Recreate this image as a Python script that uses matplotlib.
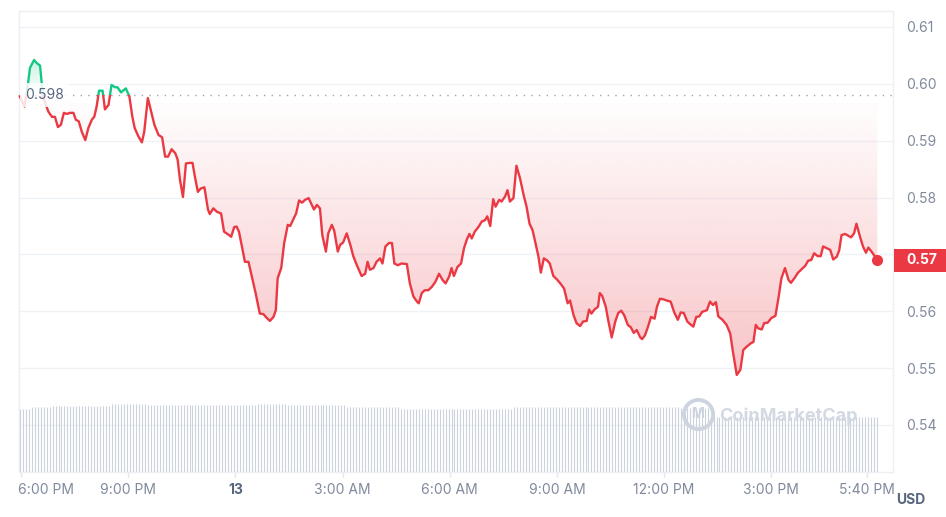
import numpy as np
import matplotlib
matplotlib.use("Agg")
import matplotlib.pyplot as plt
from matplotlib.path import Path
from matplotlib.patches import PathPatch, Rectangle
from matplotlib.transforms import blended_transform_factory, ScaledTranslation
from matplotlib.colors import to_rgb

plt.rcParams['font.family'] = ['Inter', 'DejaVu Sans']

# ---------------- data ----------------
# minutes after 6:00 PM
times = [
    -2, 6, 12, 15, 22, 26, 32, 37, 46, 52,
    57, 62, 67, 72, 77, 82, 88, 92, 97, 102,
    108, 113, 119, 123, 127, 131, 137, 141, 147, 152,
    158, 162, 168, 176, 182, 187, 191, 197, 203, 207,
    213, 218, 224, 231, 237, 242, 247, 253, 259, 263,
    267, 272, 277, 284, 288, 292, 297, 302, 308, 314,
    317, 323, 329, 336, 341, 348, 353, 358, 362, 366,
    371, 376, 382, 387, 394, 401, 407, 413, 418, 424,
    428, 431, 437, 442, 448, 452, 457, 462, 467, 472,
    477, 483, 487, 492, 497, 502, 506, 512, 516, 522,
    526, 532, 536, 541, 547, 553, 558, 564, 572, 578,
    582, 586, 592, 597, 603, 607, 612, 618, 623, 627,
    633, 639, 648, 653, 659, 665, 668, 673, 678, 684,
    690, 696, 702, 708, 713, 719, 723, 727, 733, 739,
    744, 749, 753, 757, 762, 768, 774, 779, 783, 788,
    793, 797, 803, 807, 813, 817, 821, 827, 832, 838,
    844, 849, 854, 859, 864, 869, 873, 878, 884, 888,
    894, 900, 905, 912, 918, 922, 928, 933, 939, 944,
    950, 954, 958, 963, 969, 972, 976, 982, 986, 992,
    998, 1003, 1008, 1013, 1019, 1024, 1029, 1034, 1040, 1043,
    1048, 1053, 1058, 1064, 1068, 1073, 1079, 1084, 1091, 1097,
    1103, 1108, 1113, 1119, 1123, 1129, 1134, 1139, 1144, 1152,
    1157, 1162, 1167, 1171, 1178, 1185, 1191, 1196, 1202, 1208,
    1213, 1219, 1226, 1230, 1234, 1238, 1244, 1248, 1254, 1260,
    1267, 1272, 1277, 1283, 1289, 1293, 1300, 1305, 1311, 1317,
    1322, 1327, 1332, 1338, 1343, 1347, 1353, 1359, 1364, 1370,
    1374, 1378, 1384, 1389, 1394, 1399, 1403, 1409, 1414, 1419,
    1423, 1429, 1433, 1438,
]

prices = [
    0.5978, 0.5960, 0.6002, 0.6028, 0.6042, 0.6037, 0.6032, 0.5977, 0.5951, 0.5942,
    0.5942, 0.5924, 0.5928, 0.5949, 0.5947, 0.5949, 0.5949, 0.5937, 0.5934, 0.5916,
    0.5901, 0.5922, 0.5937, 0.5942, 0.5960, 0.5988, 0.5988, 0.5955, 0.5963, 0.5998,
    0.5994, 0.5994, 0.5985, 0.5992, 0.5978, 0.5942, 0.5922, 0.5908, 0.5897, 0.5916,
    0.5975, 0.5954, 0.5928, 0.5910, 0.5906, 0.5872, 0.5872, 0.5885, 0.5878, 0.5867,
    0.5831, 0.5801, 0.5860, 0.5861, 0.5861, 0.5837, 0.5810, 0.5816, 0.5818, 0.5779,
    0.5771, 0.5781, 0.5775, 0.5772, 0.5740, 0.5735, 0.5731, 0.5748, 0.5749, 0.5740,
    0.5714, 0.5687, 0.5687, 0.5664, 0.5632, 0.5596, 0.5595, 0.5588, 0.5583, 0.5590,
    0.5602, 0.5658, 0.5676, 0.5720, 0.5752, 0.5750, 0.5761, 0.5772, 0.5795, 0.5791,
    0.5796, 0.5799, 0.5790, 0.5779, 0.5787, 0.5781, 0.5734, 0.5705, 0.5737, 0.5752,
    0.5742, 0.5705, 0.5717, 0.5721, 0.5737, 0.5717, 0.5697, 0.5681, 0.5662, 0.5666,
    0.5687, 0.5673, 0.5676, 0.5687, 0.5693, 0.5684, 0.5714, 0.5720, 0.5720, 0.5684,
    0.5681, 0.5684, 0.5683, 0.5649, 0.5626, 0.5617, 0.5614, 0.5632, 0.5637, 0.5637,
    0.5643, 0.5652, 0.5666, 0.5655, 0.5649, 0.5661, 0.5676, 0.5662, 0.5678, 0.5684,
    0.5711, 0.5727, 0.5736, 0.5728, 0.5740, 0.5748, 0.5758, 0.5760, 0.5767, 0.5750,
    0.5797, 0.5784, 0.5796, 0.5793, 0.5802, 0.5813, 0.5793, 0.5799, 0.5856, 0.5834,
    0.5805, 0.5784, 0.5754, 0.5743, 0.5720, 0.5696, 0.5668, 0.5693, 0.5689, 0.5684,
    0.5662, 0.5656, 0.5650, 0.5640, 0.5614, 0.5619, 0.5593, 0.5579, 0.5574, 0.5582,
    0.5583, 0.5603, 0.5596, 0.5603, 0.5608, 0.5632, 0.5627, 0.5608, 0.5585, 0.5554,
    0.5582, 0.5597, 0.5601, 0.5593, 0.5576, 0.5572, 0.5562, 0.5567, 0.5554, 0.5551,
    0.5558, 0.5573, 0.5590, 0.5587, 0.5608, 0.5622, 0.5621, 0.5619, 0.5617, 0.5598,
    0.5585, 0.5598, 0.5597, 0.5582, 0.5578, 0.5573, 0.5590, 0.5591, 0.5599, 0.5602,
    0.5617, 0.5611, 0.5616, 0.5591, 0.5585, 0.5576, 0.5561, 0.5526, 0.5488, 0.5497,
    0.5532, 0.5538, 0.5544, 0.5546, 0.5576, 0.5570, 0.5568, 0.5579, 0.5580, 0.5588,
    0.5592, 0.5623, 0.5658, 0.5676, 0.5655, 0.5650, 0.5660, 0.5668, 0.5674, 0.5680,
    0.5689, 0.5690, 0.5702, 0.5697, 0.5697, 0.5714, 0.5711, 0.5708, 0.5691, 0.5696,
    0.5707, 0.5734, 0.5736, 0.5733, 0.5730, 0.5737, 0.5754, 0.5731, 0.5714, 0.5703,
    0.5712, 0.5704, 0.5698, 0.5690,
]

open_price = 0.598

# volume bars every 5 minutes (relative units)
vol_times = [-2 + 5 * i for i in range(289)]
volumes = [
    315, 315, 315, 315, 325, 325, 325, 325, 325, 325, 325, 330, 330, 330, 330, 330, 330, 330, 330, 330,
    330, 330, 330, 330, 330, 330, 330, 330, 330, 330, 330, 340, 340, 340, 340, 340, 340, 340, 340, 340,
    340, 340, 340, 335, 335, 335, 335, 335, 335, 335, 335, 335, 335, 335, 335, 335, 335, 335, 335, 335,
    335, 335, 335, 335, 335, 335, 335, 335, 335, 335, 335, 335, 335, 335, 335, 335, 335, 335, 335, 335,
    340, 340, 340, 340, 340, 340, 340, 340, 340, 340, 335, 335, 335, 335, 335, 335, 335, 335, 335, 335,
    335, 335, 335, 335, 335, 335, 335, 335, 335, 335, 325, 325, 325, 325, 325, 325, 325, 325, 325, 325,
    325, 325, 325, 325, 325, 325, 325, 325, 315, 315, 315, 315, 315, 315, 315, 315, 315, 315, 315, 315,
    315, 315, 315, 315, 315, 315, 315, 315, 315, 315, 315, 315, 315, 315, 315, 315, 315, 315, 315, 315,
    315, 315, 315, 315, 315, 315, 325, 325, 325, 325, 325, 325, 325, 325, 325, 325, 325, 325, 325, 325,
    325, 325, 325, 325, 325, 325, 325, 325, 325, 325, 325, 325, 325, 325, 325, 325, 325, 325, 325, 325,
    325, 325, 325, 325, 325, 325, 325, 325, 325, 325, 325, 325, 325, 325, 325, 325, 325, 325, 325, 325,
    325, 325, 320, 320, 320, 320, 320, 320, 320, 320, 320, 320, 275, 275, 275, 275, 275, 275, 275, 275,
    275, 275, 275, 275, 275, 275, 275, 275, 275, 275, 275, 275, 275, 275, 275, 275, 275, 275, 275, 275,
    275, 275, 275, 275, 275, 275, 275, 275, 275, 275, 275, 275, 275, 275, 275, 275, 275, 275, 275, 275,
    275, 275, 275, 275, 275, 275, 275, 275, 275,
]

y_ticks = [0.54, 0.55, 0.56, 0.57, 0.58, 0.59, 0.60, 0.61]
y_tick_labels = ['0.54', '0.55', '0.56', '0.57', '0.58', '0.59', '0.60', '0.61']
x_ticks = [0, 180, 360, 540, 720, 900, 1080, 1260, 1420]
x_tick_labels = ['6:00 PM', '9:00 PM', '13', '3:00 AM', '6:00 AM', '9:00 AM',
                 '12:00 PM', '3:00 PM', '5:40 PM']
current_label = '0.57'

# ---------------- styling ----------------
RED = '#ea3943'
GREEN = '#16c784'
GRID = '#eff2f5'
TXT = '#808a9d'
DARK = '#58667e'
XMIN, XMAX = -4.2, 1464.4
YMIN, YMAX = 0.53173, 0.6129

W, H = 946, 517
fig = plt.figure(figsize=(W / 100, H / 100), dpi=100)
ax = fig.add_axes([18.5 / W, (H - 472) / H, (893 - 18.5) / W, (472 - 10.5) / H])
ax.set_facecolor('white')

t = np.array(times, dtype=float)
p = np.array(prices, dtype=float)

# gridlines
for yt in y_ticks:
    ax.axhline(yt, color=GRID, lw=1, zorder=0)

# gradient fills
def gradient_fill(lower, upper, color, a_top, a_bottom, ylo, yhi):
    verts = np.column_stack([np.r_[t, t[::-1]], np.r_[lower, upper[::-1]]])
    patch = PathPatch(Path(verts), facecolor='none', edgecolor='none', transform=ax.transData)
    ax.add_patch(patch)
    n = 256
    img = np.zeros((n, 2, 4))
    img[:, :, :3] = to_rgb(color)
    img[:, :, 3] = np.linspace(a_top, a_bottom, n)[:, None]
    im = ax.imshow(img, extent=[t[0], t[-1], ylo, yhi], aspect='auto', origin='upper',
                   zorder=1, interpolation='bilinear')
    im.set_clip_path(patch)

base_arr = np.full(len(t), open_price)
gradient_fill(np.minimum(p, open_price), base_arr, RED, 0.0, 0.30, p.min(), open_price)
gradient_fill(base_arr, np.maximum(p, open_price), GREEN, 0.22, 0.02, open_price, p.max())

# baseline dotted line
ax.axhline(open_price, color='#9aa3b1', lw=1, linestyle=(0, (1, 4.5)), zorder=2)

# price line split in colours
red_line, = ax.plot(t, p, color=RED, lw=1.7, zorder=3, solid_joinstyle='round')
green_line, = ax.plot(t, p, color=GREEN, lw=1.7, zorder=3, solid_joinstyle='round')
red_line.set_clip_path(Rectangle((-1000, 0.0), 4000, open_price, transform=ax.transData))
green_line.set_clip_path(Rectangle((-1000, open_price), 4000, 1.0, transform=ax.transData))
ax.plot(t[-1], p[-1], 'o', color=RED, ms=7, zorder=5, clip_on=False)

# open price label
ax.text((25 - 18.5) / 874.5, open_price, f'{open_price:.3f}',
        transform=blended_transform_factory(ax.transAxes, ax.transData),
        ha='left', va='center', fontsize=10, color=DARK, zorder=6,
        bbox=dict(boxstyle='square,pad=0.35', facecolor='white', edgecolor='none', alpha=0.85))

ax.set_xlim(XMIN, XMAX)
ax.set_ylim(YMIN, YMAX)

# volume axis
ax2 = ax.twinx()
ax2.vlines(vol_times, 0, volumes, color='#cbd3df', lw=0.8, zorder=1)
ax2.set_ylim(0, 2308)
ax2.set_xlim(XMIN, XMAX)
ax2.set_yticks([])
for s in ax2.spines.values():
    s.set_visible(False)
ax2.patch.set_visible(False)

# axes styling
for s in ax.spines.values():
    s.set_color('#eceff3')
    s.set_linewidth(1)
ax.yaxis.tick_right()
ax.set_yticks(y_ticks)
ax.set_yticklabels(y_tick_labels)
ax.tick_params(axis='y', which='both', left=False, labelleft=False, right=False,
               labelright=True, length=0, pad=9.5, labelsize=10, labelcolor=TXT)
# the tick label under the current-price badge is covered by it
for lab in ax.get_yticklabels():
    if lab.get_text() == current_label:
        lab.set_visible(False)
ax.set_xticks(x_ticks)
ax.set_xticklabels(x_tick_labels)
ax.tick_params(axis='x', length=3.6, width=1, color='#e3e6eb', pad=4.3, labelsize=10, labelcolor=TXT)
xl = ax.get_xticklabels()
xl[0].set_ha('left')
xl[0].set_transform(xl[0].get_transform() + ScaledTranslation(-3 / 100, 0, fig.dpi_scale_trans))
xl[2].set_fontweight('bold')
xl[2].set_color(DARK)

# watermark
ax2.plot([0.777], [0.1257], 'o', mfc='none', mec='#cdd4e0', ms=21, mew=2.8,
         transform=ax2.transAxes, zorder=4, clip_on=False)
ax2.text(0.777, 0.1257, 'M', transform=ax2.transAxes, ha='center', va='center',
         fontsize=10, fontweight='bold', color='#cdd4e0', zorder=4)
ax2.text(0.801, 0.121, 'CoinMarketCap', transform=ax2.transAxes, ha='left', va='center',
         fontsize=13, fontweight='bold', color='#d3d9e3', zorder=4)

# current price badge
tr = blended_transform_factory(fig.transFigure, ax.transData)
half = 11.5 * (YMAX - YMIN) / 461.5
badge = Rectangle((894 / W, p[-1] - half), (W - 894) / W, 2 * half, transform=tr,
                  facecolor=RED, edgecolor='none', zorder=10)
fig.add_artist(badge)
badge_txt = fig.text(906 / W, 0, current_label, transform=tr, ha='left', va='center', fontsize=10,
                     fontweight='bold', color='white', zorder=11)
badge_txt.set_position((906 / W, p[-1]))

fig.text(896 / W, 1 - 500 / H, 'USD', ha='left', va='center', fontsize=10,
         fontweight='bold', color=DARK)

fig.savefig('out.png', dpi=100)
